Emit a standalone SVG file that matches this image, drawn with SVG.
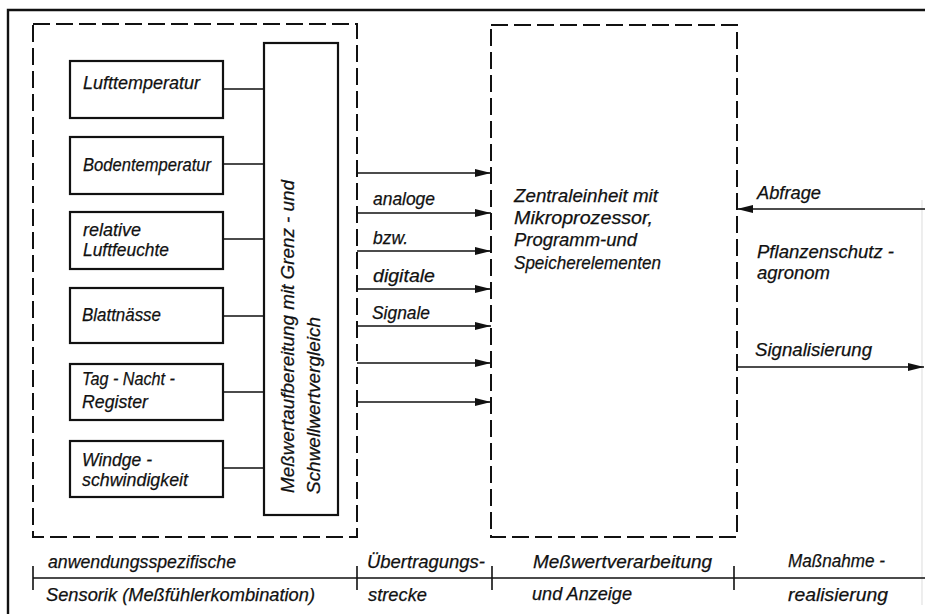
<svg xmlns="http://www.w3.org/2000/svg" width="925" height="614" viewBox="0 0 925 614">
<defs>
<style>
.t{font-family:"Liberation Sans",Arial,sans-serif;font-style:italic;font-size:19px;fill:#111;stroke:#111;stroke-width:0.25}
.box{fill:none;stroke:#111;stroke-width:2.2}
.dash{fill:none;stroke:#111;stroke-width:2;stroke-dasharray:17 6}
.ln{fill:none;stroke:#111;stroke-width:1.6}
.frame{fill:none;stroke:#111;stroke-width:2.4}
</style>
<marker id="ah" markerWidth="16" markerHeight="10" refX="16" refY="5" orient="auto" markerUnits="userSpaceOnUse">
<path d="M0,1 L16,5 L0,9 Z" fill="#111"/>
</marker>
</defs>
<rect width="925" height="614" fill="#fff"/>
<g id="frame">
<path class="frame" d="M8,614 V10 H925"/>
<path d="M922,200 V605" stroke="#e2e2e2" stroke-width="1.2" fill="none"/>
</g>
<g id="sensorik-group">
<rect class="dash" x="33" y="24" width="324" height="513"/>
</g>
<g id="zentraleinheit">
<rect class="dash" x="491" y="25" width="246" height="512"/>
<text class="t" x="514" y="202" textLength="144" lengthAdjust="spacingAndGlyphs">Zentraleinheit mit</text>
<text class="t" x="514" y="224" textLength="139" lengthAdjust="spacingAndGlyphs">Mikroprozessor,</text>
<text class="t" x="514" y="246" textLength="123" lengthAdjust="spacingAndGlyphs">Programm-und</text>
<text class="t" x="514" y="269" textLength="147" lengthAdjust="spacingAndGlyphs">Speicherelementen</text>
</g>
<g id="s1"><rect class="box" x="70" y="61" width="153" height="57"/>
<text class="t" x="83" y="89" textLength="117" lengthAdjust="spacingAndGlyphs">Lufttemperatur</text></g>
<g id="s2"><rect class="box" x="70" y="137" width="153" height="57"/>
<text class="t" x="83" y="171" textLength="128" lengthAdjust="spacingAndGlyphs">Bodentemperatur</text></g>
<g id="s3"><rect class="box" x="70" y="212" width="153" height="57"/>
<text class="t" x="83" y="236" textLength="58" lengthAdjust="spacingAndGlyphs">relative</text>
<text class="t" x="83" y="256" textLength="86" lengthAdjust="spacingAndGlyphs">Luftfeuchte</text></g>
<g id="s4"><rect class="box" x="70" y="288" width="153" height="55"/>
<text class="t" x="82" y="321" textLength="79" lengthAdjust="spacingAndGlyphs">Blattnässe</text></g>
<g id="s5"><rect class="box" x="70" y="364" width="153" height="56"/>
<text class="t" x="82" y="385" textLength="93" lengthAdjust="spacingAndGlyphs">Tag - Nacht -</text>
<text class="t" x="82" y="408" textLength="66" lengthAdjust="spacingAndGlyphs">Register</text></g>
<g id="s6"><rect class="box" x="70" y="441" width="153" height="56"/>
<text class="t" x="82" y="466" textLength="70" lengthAdjust="spacingAndGlyphs">Windge -</text>
<text class="t" x="82" y="486" textLength="106" lengthAdjust="spacingAndGlyphs">schwindigkeit</text></g>
<g id="messwertaufbereitung"><rect class="box" x="264" y="43" width="74" height="472"/>
<text class="t" transform="translate(294,493) rotate(-90)" textLength="313" lengthAdjust="spacingAndGlyphs">Meßwertaufbereitung mit Grenz - und</text>
<text class="t" transform="translate(320,494) rotate(-90)" textLength="177" lengthAdjust="spacingAndGlyphs">Schwellwertvergleich</text></g>
<g id="connectors">
<path class="ln" d="M223,89 H264 M223,164 H264 M223,239 H264 M223,316 H264 M223,392 H264 M223,468 H264"/>
<path class="ln" marker-end="url(#ah)" d="M357,173 H491"/>
<path class="ln" marker-end="url(#ah)" d="M357,213 H491"/>
<path class="ln" marker-end="url(#ah)" d="M357,251 H491"/>
<path class="ln" marker-end="url(#ah)" d="M357,289 H491"/>
<path class="ln" marker-end="url(#ah)" d="M357,326 H491"/>
<path class="ln" marker-end="url(#ah)" d="M357,363 H491"/>
<path class="ln" marker-end="url(#ah)" d="M357,402 H491"/>
<path class="ln" marker-end="url(#ah)" d="M925,209 H737"/>
<path class="ln" marker-end="url(#ah)" d="M737,367 H924"/>
</g>
<g id="signal-labels">
<text class="t" x="373" y="205" textLength="62" lengthAdjust="spacingAndGlyphs">analoge</text>
<text class="t" x="373" y="244" textLength="35" lengthAdjust="spacingAndGlyphs">bzw.</text>
<text class="t" x="373" y="282" textLength="62" lengthAdjust="spacingAndGlyphs">digitale</text>
<text class="t" x="372" y="319" textLength="58" lengthAdjust="spacingAndGlyphs">Signale</text>
<text class="t" x="757" y="199" textLength="64" lengthAdjust="spacingAndGlyphs">Abfrage</text>
<text class="t" x="757" y="258" textLength="137" lengthAdjust="spacingAndGlyphs">Pflanzenschutz -</text>
<text class="t" x="757" y="279" textLength="73" lengthAdjust="spacingAndGlyphs">agronom</text>
<text class="t" x="755" y="356" textLength="117" lengthAdjust="spacingAndGlyphs">Signalisierung</text>
</g>
<g id="phases">
<path class="ln" d="M33,578 H925 M33,566 V590 M357,566 V590 M492,566 V590 M734,566 V590"/>
<text class="t" x="48" y="568" textLength="188" lengthAdjust="spacingAndGlyphs">anwendungsspezifische</text>
<text class="t" x="46" y="601" textLength="269" lengthAdjust="spacingAndGlyphs">Sensorik (Meßfühlerkombination)</text>
<text class="t" x="367" y="568" textLength="118" lengthAdjust="spacingAndGlyphs">Übertragungs-</text>
<text class="t" x="368" y="601" textLength="59" lengthAdjust="spacingAndGlyphs">strecke</text>
<text class="t" x="533" y="568" textLength="179" lengthAdjust="spacingAndGlyphs">Meßwertverarbeitung</text>
<text class="t" x="532" y="600" textLength="100" lengthAdjust="spacingAndGlyphs">und Anzeige</text>
<text class="t" x="788" y="567" textLength="97" lengthAdjust="spacingAndGlyphs">Maßnahme -</text>
<text class="t" x="788" y="601" textLength="100" lengthAdjust="spacingAndGlyphs">realisierung</text>
</g>
</svg>
